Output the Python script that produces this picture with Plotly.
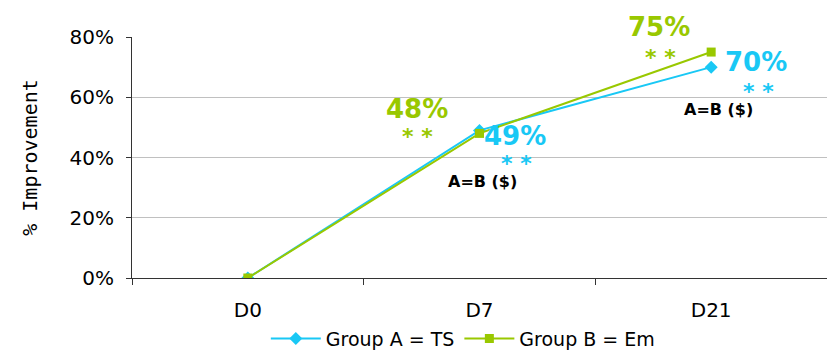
import plotly.graph_objects as go

days = ["D0", "D7", "D21"]
group_a = [0, 49, 70]
group_b = [0, 48, 75]
y_ticks = [0, 20, 40, 60, 80]

CYAN = "#19C8F5"
GREEN = "#99C800"
FONT = "DejaVu Sans"
AXIS = "#333333"

fig = go.Figure()
fig.add_trace(go.Scatter(
    x=days, y=group_a, name="Group A = TS", mode="lines+markers",
    line=dict(color=CYAN, width=2),
    marker=dict(symbol="diamond", size=10, color=CYAN),
))
fig.add_trace(go.Scatter(
    x=days, y=group_b, name="Group B = Em", mode="lines+markers",
    line=dict(color=GREEN, width=2),
    marker=dict(symbol="square", size=9, color=GREEN),
))

def note(xi, yv, text, color, size, dx, dy):
    fig.add_annotation(x=xi, y=yv, xref="x", yref="y", text=text,
                       showarrow=False, xshift=dx, yshift=dy,
                       font=dict(family=FONT, size=size, color=color))

# D7 labels
note(1, group_b[1], f"<b>{group_b[1]}%</b>", GREEN, 26, -63, 24)
note(1, group_b[1], "<b>* *</b>", GREEN, 22, -62, -3)
note(1, group_a[1], f"<b>{group_a[1]}%</b>", CYAN, 26, 35, -6)
note(1, group_a[1], "<b>* *</b>", CYAN, 22, 37, -33)
note(1, group_a[1], "<b>A=B ($)</b>", "black", 16, 3, -51)
# D21 labels
note(2, group_b[2], f"<b>{group_b[2]}%</b>", GREEN, 26, -52, 25)
note(2, group_b[2], "<b>* *</b>", GREEN, 22, -51, -5)
note(2, group_a[2], f"<b>{group_a[2]}%</b>", CYAN, 26, 45, 5)
note(2, group_a[2], "<b>* *</b>", CYAN, 22, 47, -24)
note(2, group_a[2], "<b>A=B ($)</b>", "black", 16, 7, -42)

fig.update_layout(
    width=827, height=351,
    margin=dict(l=132, r=0, t=37, b=73),
    paper_bgcolor="white", plot_bgcolor="white",
    font=dict(family=FONT, size=20, color="black"),
    showlegend=True,
    legend=dict(orientation="h", x=0.476, xanchor="center",
                yref="container", y=0.035, yanchor="middle",
                font=dict(size=19), tracegroupgap=0, itemwidth=50),
    xaxis=dict(
        type="category", tickson="boundaries", ticks="outside", ticklen=6,
        tickcolor=AXIS, showline=True, linecolor=AXIS, linewidth=1,
        showgrid=False, tickfont=dict(size=20), range=[-0.5, 2.5],
        ticklabelstandoff=14, automargin=False,
    ),
    yaxis=dict(
        range=[0, 80], tickvals=y_ticks, ticktext=[f"{v}%" for v in y_ticks],
        ticks="outside", ticklen=5, tickcolor=AXIS,
        showline=True, linecolor=AXIS, linewidth=1,
        showgrid=True, gridcolor="#C0C0C0", gridwidth=1,
        zeroline=False, tickfont=dict(size=20), ticklabelstandoff=8,
        automargin=False,
        title=dict(text="% Improvement",
                   font=dict(family="DejaVu Sans Mono", size=20), standoff=26),
    ),
)

fig.write_html("out.html")
